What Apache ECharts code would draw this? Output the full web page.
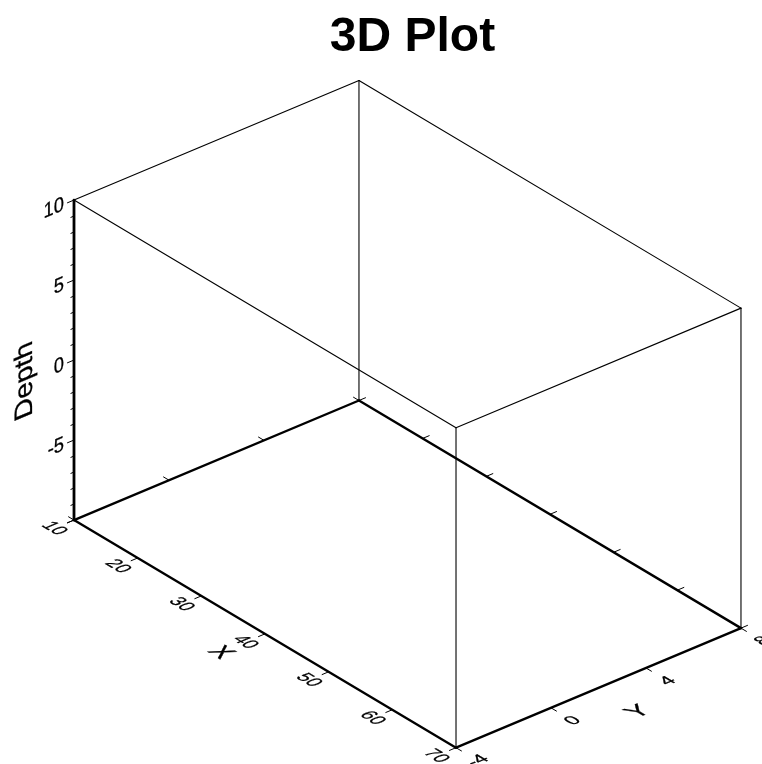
<!DOCTYPE html>
<html>
<head>
<meta charset="utf-8">
<script src="https://cdn.jsdelivr.net/npm/echarts@6/dist/echarts.min.js"></script>
<style>html,body{margin:0;padding:0;background:#fff}#c{width:762px;height:764px}</style>
</head>
<body>
<div id="c"></div>
<script>
// ---------------- data ----------------
const chartTitle = '3D Plot';
const xName = 'X';
const yName = 'Y';
const depthName = 'Depth';
const xRange = [10, 70];
const yRange = [-4, 8];
const depthRange = [-10, 10];
const xTicks = [10, 20, 30, 40, 50, 60, 70];
const xTickLabels = ['10', '20', '30', '40', '50', '60', '70'];
const yTicks = [-4, 0, 4, 8];
const yTickLabels = ['-4', '0', '4', '8'];
const depthMajorTicks = [-10, -5, 0, 5, 10];
const depthMinorTicks = [-9, -8, -7, -6, -4, -3, -2, -1, 1, 2, 3, 4, 6, 7, 8, 9];
const depthLabelValues = [-5, 0, 5, 10];
const depthTickLabels = ['-5', '0', '5', '10'];

// ---------------- view / projection ----------------
const VIEW = { azimuth: -50, elevation: 30, lenX: 594.3, lenY: 372, lenZ: 369.5 };
const az = VIEW.azimuth * Math.PI / 180, el = VIEW.elevation * Math.PI / 180;
const ca = Math.cos(az), sa = Math.sin(az), ce = Math.cos(el), se = Math.sin(el);
function toPlot(x, y, z) {
  return [
    (x - xRange[0]) / (xRange[1] - xRange[0]) * VIEW.lenX,
    (y - yRange[0]) / (yRange[1] - yRange[0]) * VIEW.lenY,
    (z - depthRange[0]) / (depthRange[1] - depthRange[0]) * VIEW.lenZ
  ];
}
function project(p) {
  return [p[0] * ca - p[1] * sa, p[2] * ce + (p[0] * sa + p[1] * ca) * se];
}
const corners = [];
xRange.forEach(x => yRange.forEach(y => depthRange.forEach(z => corners.push(project(toPlot(x, y, z))))));
const pxMin = Math.min(...corners.map(c => c[0])), pxMax = Math.max(...corners.map(c => c[0]));
const pyMin = Math.min(...corners.map(c => c[1])), pyMax = Math.max(...corners.map(c => c[1]));

// ---------------- geometry built from ranges ----------------
const [x0, x1] = xRange, [y0, y1] = yRange, [z0, z1] = depthRange;
const axisEdges = [
  [x0, y0, z0, x1, y0, z0],
  [x1, y0, z0, x1, y1, z0],
  [x0, y0, z0, x0, y1, z0],
  [x0, y1, z0, x1, y1, z0]
];
const depthEdge = [[x0, y0, z0, x0, y0, z1]];
const frameEdges = [
  [x0, y1, z0, x0, y1, z1],
  [x1, y1, z0, x1, y1, z1],
  [x1, y0, z0, x1, y0, z1],
  [x0, y0, z1, x1, y0, z1],
  [x1, y0, z1, x1, y1, z1],
  [x1, y1, z1, x0, y1, z1],
  [x0, y1, z1, x0, y0, z1]
];
const majorTickItems = [];
xTicks.forEach(x => { majorTickItems.push([x, y0, z0, 0, -1, 0]); majorTickItems.push([x, y1, z0, 0, 1, 0]); });
yTicks.forEach(y => { majorTickItems.push([x1, y, z0, 1, 0, 0]); majorTickItems.push([x0, y, z0, -1, 0, 0]); });
depthMajorTicks.forEach(z => majorTickItems.push([x0, y0, z, 0, -1, 0]));
const minorTickItems = depthMinorTicks.map(z => [x0, y0, z, 0, -1, 0]);

const FONT = '"Liberation Sans", Arial, Helvetica, sans-serif';

function lineRender(width) {
  return function (params, api) {
    const a = api.coord(project(toPlot(api.value(0), api.value(1), api.value(2))));
    const b = api.coord(project(toPlot(api.value(3), api.value(4), api.value(5))));
    return { type: 'line', shape: { x1: a[0], y1: a[1], x2: b[0], y2: b[1] },
      style: { stroke: '#000', lineWidth: width, lineCap: 'round' } };
  };
}
function tickRender(len, width) {
  return function (params, api) {
    const p = toPlot(api.value(0), api.value(1), api.value(2));
    const q = [p[0] + api.value(3) * len, p[1] + api.value(4) * len, p[2] + api.value(5) * len];
    const a = api.coord(project(p));
    const b = api.coord(project(q));
    return { type: 'line', shape: { x1: a[0], y1: a[1], x2: b[0], y2: b[1] },
      style: { stroke: '#000', lineWidth: width } };
  };
}
function add(p, v, k) { return [p[0] + v[0] * k, p[1] + v[1] * k, p[2] + v[2] * k]; }
function textRender(texts, o) {
  return function (params, api) {
    const p0 = toPlot(api.value(0), api.value(1), api.value(2));
    const q = add(p0, o.offset, 1);
    const P = api.coord(project(q));
    const B = api.coord(project(add(q, o.base, 1)));
    const D = api.coord(project(add(q, o.down, 1)));
    const a = B[0] - P[0], c = B[1] - P[1], b = D[0] - P[0], d = D[1] - P[1];
    const E = (a + d) / 2, F = (a - d) / 2, G = (c + b) / 2, H = (c - b) / 2;
    const Q = Math.hypot(E, H), R = Math.hypot(F, G);
    const s1 = Q + R, s2 = Q - R;
    const a1 = Math.atan2(G, F), a2 = Math.atan2(H, E);
    const th = (a2 - a1) / 2, ph = (a2 + a1) / 2;
    return {
      type: 'group', x: P[0], y: P[1], rotation: -ph,
      children: [{
        type: 'group', scaleX: s1, scaleY: s2,
        children: [{
          type: 'text', rotation: -th,
          style: {
            text: texts[params.dataIndex], x: 0, y: 0,
            font: (o.weight || 'normal') + ' ' + o.size + 'px ' + FONT,
            fill: '#000', stroke: '#000', lineWidth: 0.35,
            textAlign: o.align, textVerticalAlign: 'middle',
            align: o.align, verticalAlign: 'middle'
          }
        }]
      }]
    };
  };
}
const ANNOT = 24, LABEL = 33;
const custom = (data, renderItem) => ({ type: 'custom', coordinateSystem: 'cartesian2d', clip: false,
  silent: true, data: data, renderItem: renderItem });

const chart = echarts.init(document.getElementById('c'), null, { renderer: 'canvas' });
chart.setOption({
  animation: false,
  backgroundColor: '#fff',
  title: {
    text: chartTitle, left: 74 + (pxMax - pxMin) / 2, top: 9, textAlign: 'center',
    textStyle: { fontSize: 48, fontWeight: 'bold', fontFamily: FONT, color: '#000' }
  },
  grid: { left: 74, top: 80.5, width: pxMax - pxMin, height: pyMax - pyMin, show: false },
  xAxis: { type: 'value', min: pxMin, max: pxMax, show: false },
  yAxis: { type: 'value', min: pyMin, max: pyMax, show: false },
  series: [
    custom(frameEdges, lineRender(1.1)),
    custom(minorTickItems, tickRender(4.5, 1)),
    custom(majorTickItems, tickRender(9, 1)),
    custom(axisEdges, lineRender(2.4)),
    custom(depthEdge, lineRender(2.8)),
    custom(xTicks.map(x => [x, y0, z0]),
      textRender(xTickLabels, { offset: [0, -26, 0], base: [1, 0, 0], down: [0, -1, 0], size: ANNOT, align: 'center' })),
    custom(yTicks.map(y => [x1, y, z0]),
      textRender(yTickLabels, { offset: [34, 0, 0], base: [0, 1, 0], down: [1, 0, 0], size: ANNOT, align: 'center' })),
    custom(depthLabelValues.map(z => [x0, y0, z]),
      textRender(depthTickLabels, { offset: [0, -13, 0], base: [0, 1, 0], down: [0, 0, -1], size: ANNOT, align: 'right' })),
    custom([[(x0 + x1) / 2, y0, z0]],
      textRender([xName], { offset: [0, -58, 0], base: [1, 0, 0], down: [0, -1, 0], size: LABEL, align: 'center' })),
    custom([[x1, (y0 + y1) / 2, z0]],
      textRender([yName], { offset: [62, 0, 0], base: [0, 1, 0], down: [1, 0, 0], size: LABEL, align: 'center' })),
    custom([[x0, y0, (z0 + z1) / 2]],
      textRender([depthName], { offset: [0, -64, 0], base: [0, 0, 1], down: [0, 1, 0], size: LABEL, align: 'center' }))
  ]
});
</script>
</body>
</html>
